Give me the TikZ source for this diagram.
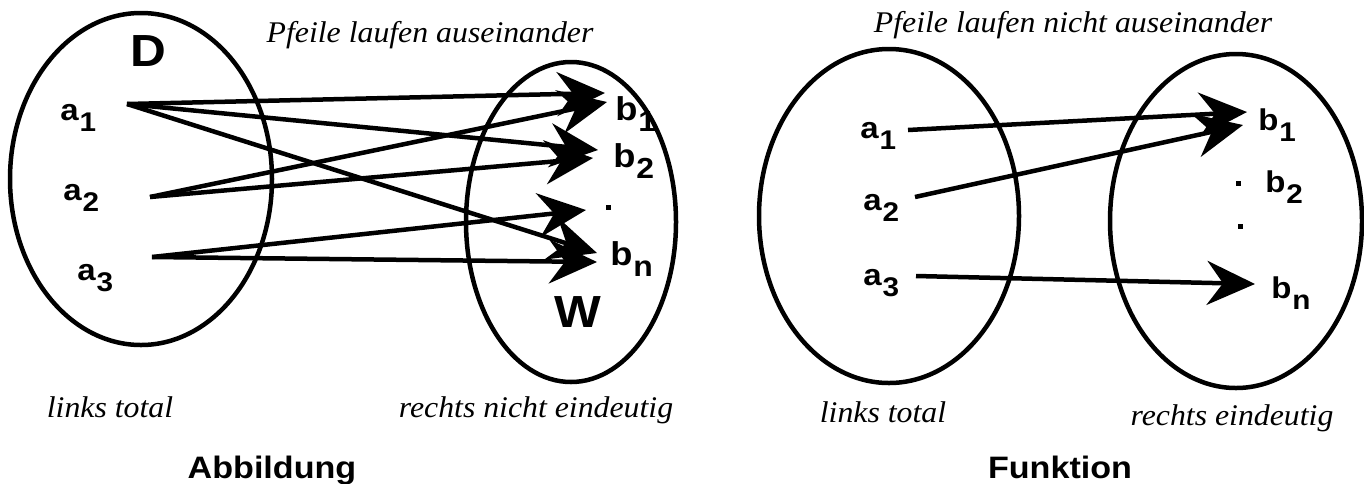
\documentclass[tikz,border=0pt]{standalone}
\usepackage{fontspec}
\setmainfont{Liberation Serif}[FakeStretch=1.06]
\setsansfont{Liberation Sans}[FakeStretch=1.1]
\usetikzlibrary{arrows.meta}

% element label with a lowered index: \elem{base}{index}{index size}{drop}
\newcommand{\elem}[4]{#1\kern1pt\raisebox{-#4}{\fontsize{#3}{#3}\selectfont #2}}

\begin{document}
\begin{tikzpicture}[x=1pt, y=-1pt, line width=4.5pt,
  setline/.style={draw, line width=4.5pt},
  maparrow/.style={draw, line width=4.5pt, -{Stealth[length=48pt, width=44pt, inset=16pt]}},
  note/.style={font=\itshape\fontsize{30}{30}\selectfont, inner sep=0, anchor=base},
  head/.style={font=\sffamily\bfseries\fontsize{31}{31}\selectfont, inner sep=0, anchor=base},
  setname/.style={font=\sffamily\bfseries\fontsize{45}{45}\selectfont, inner sep=0},
  elemA/.style={font=\sffamily\bfseries\fontsize{30}{30}\selectfont, inner sep=0, anchor=base west},
  elemB/.style={font=\sffamily\bfseries\fontsize{33}{33}\selectfont, inner sep=0, anchor=base west},
  dotmark/.style={fill, draw=none, minimum size=5pt, inner sep=0}]
\useasboundingbox (0,0) rectangle (1364,483);

% ---------- left: Abbildung ----------
\coordinate (Dc) at (141,179);
\coordinate (Wc) at (571,222);
\draw[setline] (Dc) ellipse [x radius=131, y radius=166];
\draw[setline] (Wc) ellipse [x radius=105, y radius=160];

\node[setname] (D) at (148,51) {D};
\node[setname] (W) at (578,312) {W};

\node[elemA] (la1) at (58,120) {\elem{a}{1}{27}{11pt}};
\node[elemA] (la2) at (61,200) {\elem{a}{2}{27}{11pt}};
\node[elemA] (la3) at (75,280) {\elem{a}{3}{27}{11pt}};
\node[elemB] (lb1) at (613,120) {\elem{b}{1}{29}{11pt}};
\node[elemB] (lb2) at (611,167) {\elem{b}{2}{29}{11pt}};
\node[dotmark] (ldot) at (608,207) {};
\node[elemB] (lbn) at (608,265) {\elem{b}{n}{29}{11pt}};

\coordinate (ls1) at (127,104);
\coordinate (ls2) at (150,197);
\coordinate (ls3) at (152,257);
\coordinate (lt11) at (605,93);
\coordinate (lt21) at (607,102);
\coordinate (lt12) at (598,150);
\coordinate (lt22) at (593,158);
\coordinate (lt3d) at (586,210);
\coordinate (lt1n) at (597,253);
\coordinate (lt3n) at (597,262);

\draw[maparrow] (ls1) -- (lt11);
\draw[maparrow] (ls1) -- (lt12);
\draw[maparrow] (ls1) -- (lt1n);
\draw[maparrow] (ls2) -- (lt21);
\draw[maparrow] (ls2) -- (lt22);
\draw[maparrow] (ls3) -- (lt3d);
\draw[maparrow] (ls3) -- (lt3n);

\node[note] (ltitle) at (430,42) {Pfeile laufen auseinander};
\node[note] (lleft) at (110,417) {links total};
\node[note] (lright) at (536,417) {rechts nicht eindeutig};
\node[head] (lhead) at (272,478) {Abbildung};

% ---------- right: Funktion ----------
\coordinate (Lc) at (889,216);
\coordinate (Rc) at (1236,221);
\draw[setline] (Lc) ellipse [x radius=130, y radius=167];
\draw[setline] (Rc) ellipse [x radius=126, y radius=167];

\node[elemA] (ra1) at (858,138) {\elem{a}{1}{27}{11pt}};
\node[elemA] (ra2) at (861,210) {\elem{a}{2}{27}{11pt}};
\node[elemA] (ra3) at (861,285) {\elem{a}{3}{27}{11pt}};
\node[elemA] (rb1) at (1256,130) {\elem{b}{1}{27}{11pt}};
\node[elemA] (rb2) at (1263,192) {\elem{b}{2}{27}{11pt}};
\node[dotmark] (rdot1) at (1238,183) {};
\node[dotmark] (rdot2) at (1240,226) {};
\node[elemA] (rbn) at (1269,298) {\elem{b}{n}{27}{11pt}};

\coordinate (rs1) at (908,130);
\coordinate (rs2) at (915,197);
\coordinate (rs3) at (916,276);
\coordinate (rt1) at (1247,112);
\coordinate (rt2) at (1243,125);
\coordinate (rt3) at (1255,284);

\draw[maparrow] (rs1) -- (rt1);
\draw[maparrow] (rs2) -- (rt2);
\draw[maparrow] (rs3) -- (rt3);

\node[note] (rtitle) at (1073,32) {Pfeile laufen nicht auseinander};
\node[note] (rleft) at (883,422) {links total};
\node[note] (rright) at (1232,425) {rechts eindeutig};
\node[head] (rhead) at (1060,478) {Funktion};
\end{tikzpicture}
\end{document}
